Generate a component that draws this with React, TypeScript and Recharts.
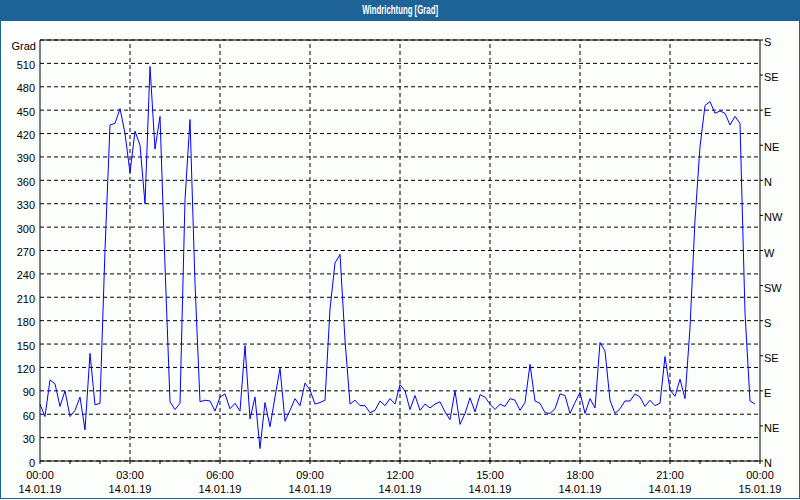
import React from "react";
import {
  LineChart,
  Line,
  XAxis,
  YAxis,
  CartesianGrid,
  ReferenceLine,
} from "recharts";

// wind direction in degrees, one reading every 10 minutes from 14.01.19 00:00
const DIRECTION = [
  73, 57, 104, 99, 70, 90, 57, 65, 82, 40, 138, 72,
  74, 271, 431, 433, 452, 420, 370, 423, 405, 330, 506, 400,
  442, 250, 76, 66, 74, 335, 438, 228, 76, 78, 77, 64,
  82, 86, 67, 74, 64, 148, 54, 82, 16, 75, 44, 82,
  119, 51, 65, 80, 71, 100, 91, 73, 75, 78, 195, 254,
  265, 155, 73, 78, 71, 71, 62, 65, 77, 71, 80, 73,
  98, 90, 66, 84, 65, 73, 68, 73, 76, 63, 53, 90,
  47, 61, 81, 63, 85, 82, 73, 66, 73, 70, 80, 78,
  65, 75, 124, 77, 74, 62, 61, 67, 86, 84, 61, 75,
  88, 61, 80, 68, 152, 141, 78, 61, 67, 77, 77, 86,
  82, 70, 78, 71, 74, 134, 91, 83, 105, 80, 171, 309,
  403, 456, 461, 446, 449, 446, 431, 442, 433, 190, 77, 73,
];
const STEP_HOURS = 1 / 6;

const HOUR_TICKS = [0, 1, 2, 3, 4, 5, 6, 7, 8, 9, 10, 11, 12, 13, 14, 15, 16, 17, 18, 19, 20, 21, 22, 23, 24];
const LABEL_HOURS = [0, 3, 6, 9, 12, 15, 18, 21, 24];
const TIME_LABELS = ["00:00", "03:00", "06:00", "09:00", "12:00", "15:00", "18:00", "21:00", "00:00"];
const DATE_LABELS = ["14.01.19", "14.01.19", "14.01.19", "14.01.19", "14.01.19", "14.01.19", "14.01.19", "14.01.19", "15.01.19"];
const GRID_HOURS = [3, 6, 9, 12, 15, 18, 21];

const GRAD_TICKS = [0, 30, 60, 90, 120, 150, 180, 210, 240, 270, 300, 330, 360, 390, 420, 450, 480, 510];
const COMPASS_TICKS = [0, 45, 90, 135, 180, 225, 270, 315, 360, 405, 450, 495, 540];
const COMPASS_LABELS = ["N", "NE", "E", "SE", "S", "SW", "W", "NW", "N", "NE", "E", "SE", "S"];

const FONT = "'Liberation Sans', Arial, sans-serif";
const FRAME_BLUE = "#1d6396";

const data = DIRECTION.map((v, i) => ({ t: i * STEP_HOURS, v }));

function TimeTick({ x, y, payload }: any) {
  const idx = LABEL_HOURS.indexOf(payload.value);
  if (idx < 0) return null;
  return (
    <g>
      <text x={x} y={y + 13} textAnchor="middle" fontSize={11} fontFamily={FONT} fill="#000">
        {TIME_LABELS[idx]}
      </text>
      <text x={x} y={y + 27} textAnchor="middle" fontSize={11} fontFamily={FONT} fill="#000">
        {DATE_LABELS[idx]}
      </text>
    </g>
  );
}

function GradTick({ x, y, payload }: any) {
  return (
    <text x={x} y={y + 5.5} textAnchor="end" fontSize={11} fontFamily={FONT} fill="#000">
      {payload.value}
    </text>
  );
}

function CompassTick({ x, y, payload }: any) {
  const idx = COMPASS_TICKS.indexOf(Number(payload.value));
  return (
    <text x={x} y={y + 6} textAnchor="start" fontSize={11} fontFamily={FONT} fill="#000">
      {idx >= 0 ? COMPASS_LABELS[idx] : ""}
    </text>
  );
}

export default function App() {
  return (
    <div
      style={{
        position: "absolute",
        left: 0,
        top: 0,
        width: 800,
        height: 500,
        background: "#fcfefc",
        fontFamily: FONT,
      }}
    >
      <div style={{ position: "absolute", left: 0, top: 0 }}>
        <LineChart
          width={800}
          height={500}
          data={data}
          margin={{ top: 40, right: 0, left: 0, bottom: 0 }}
        >
          <CartesianGrid
            yAxisId="left"
            vertical={false}
            stroke="#000"
            strokeDasharray="4 3"
          />
          {GRID_HOURS.map((h) => (
            <ReferenceLine
              key={h}
              x={h}
              yAxisId="left"
              stroke="#000"
              strokeDasharray="4 3"
            />
          ))}
          <ReferenceLine y={540} yAxisId="left" stroke="#000" />
          <XAxis
            type="number"
            dataKey="t"
            domain={[0, 24]}
            ticks={HOUR_TICKS}
            interval={0}
            height={39}
            tickSize={3}
            tickMargin={2}
            stroke="#000"
            tick={(p: any) => <TimeTick {...p} />}
          />
          <YAxis
            yAxisId="left"
            type="number"
            domain={[0, 540]}
            ticks={GRAD_TICKS}
            interval={0}
            width={40}
            tickSize={3}
            tickMargin={2}
            tickLine={false}
            stroke="#000"
            tick={(p: any) => <GradTick {...p} />}
          />
          <YAxis
            yAxisId="right"
            orientation="right"
            type="number"
            domain={[0, 540]}
            allowDataOverflow
            ticks={COMPASS_TICKS}
            interval={0}
            width={40}
            tickSize={3}
            tickMargin={1}
            stroke="#000"
            tick={(p: any) => <CompassTick {...p} />}
          />
          {/* invisible series so the compass axis gets a scale */}
          <Line
            yAxisId="right"
            type="linear"
            dataKey="v"
            stroke="none"
            dot={false}
            activeDot={false}
            isAnimationActive={false}
          />
          <Line
            yAxisId="left"
            type="linear"
            dataKey="v"
            stroke="#0000ff"
            strokeWidth={1}
            dot={false}
            isAnimationActive={false}
          />
        </LineChart>
      </div>
      <div
        style={{
          position: "absolute",
          left: 0,
          top: 0,
          width: 800,
          height: 21,
          background: FRAME_BLUE,
          color: "#fff",
          fontSize: 13,
          fontWeight: "bold",
          lineHeight: "20px",
          textAlign: "center",
        }}
      >
        <span style={{ display: "inline-block", transform: "scaleX(0.6)" }}>
          Windrichtung [Grad]
        </span>
      </div>
      <div
        style={{
          position: "absolute",
          left: 0,
          top: 0,
          width: 800,
          height: 499,
          boxSizing: "border-box",
          borderLeft: `1px solid ${FRAME_BLUE}`,
          borderRight: `1px solid ${FRAME_BLUE}`,
          borderBottom: `1px solid ${FRAME_BLUE}`,
          pointerEvents: "none",
        }}
      />
      <div
        style={{
          position: "absolute",
          left: 0,
          top: 40,
          width: 36,
          fontSize: 11,
          lineHeight: "13px",
          textAlign: "right",
          color: "#000",
        }}
      >
        Grad
      </div>
    </div>
  );
}
